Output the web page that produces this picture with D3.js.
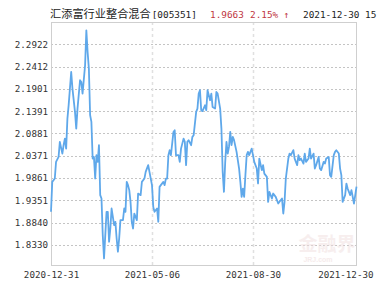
<!DOCTYPE html>
<html><head><meta charset="utf-8">
<script src="https://cdn.jsdelivr.net/npm/d3@7"></script>
<style>
html,body{margin:0;padding:0;background:#fff;overflow:hidden;}
svg{display:block;}
</style></head>
<body>
<svg id="chart" width="377" height="300"></svg>
<script>
const fundName = "汇添富行业整合混合";
const fundCode = "[005351]";
const latestValue = "1.9663";
const latestChange = "2.15% ↑";
const latestTime = "2021-12-30 15";

const yTickValues = [1.8330, 1.8840, 1.9351, 1.9861, 2.0371, 2.0881, 2.1391, 2.1901, 2.2412, 2.2922];
const yTickLabels = ["1.8330", "1.8840", "1.9351", "1.9861", "2.0371", "2.0881", "2.1391", "2.1901", "2.2412", "2.2922"];
const xTickDays = [0, 80, 160, 242];
const xTickLabels = ["2020-12-31", "2021-05-06", "2021-08-30", "2021-12-30"];

const days = [0,1,3,4,6,7,9,10,11,12,13,14,16,17,19,20,21,23,24,25,27,28,29,30,31,32,33,34,35,36,37,38,39,40,41,42,43,44,45,46,47,48,50,51,52,53,54,55,57,58,59,60,61,62,63,64,65,66,68,69,71,72,74,75,77,78,80,81,82,84,85,86,87,89,90,91,92,93,94,95,97,98,99,101,102,103,105,106,107,108,109,111,112,113,115,116,117,118,119,120,122,123,124,126,127,128,130,131,132,134,135,136,137,138,139,140,141,142,143,144,145,147,149,150,151,152,153,154,155,156,157,159,160,161,163,164,165,167,168,169,171,172,173,175,176,178,180,181,183,184,185,186,187,188,189,190,192,193,195,196,197,198,200,201,202,204,205,206,208,209,210,212,213,214,216,217,218,220,221,222,224,225,226,228,229,230,231,233,234,235,237,238,240,242];
const navValues = [1.9085,1.9771,1.9847,2.0229,2.0343,2.0687,2.0419,2.0618,2.0762,2.0533,2.1220,2.1533,2.2288,2.1906,2.1373,2.0991,2.1449,2.2098,2.2059,2.1792,2.2442,2.3242,2.2746,2.2364,2.1298,2.1144,2.0305,2.0343,1.9847,2.0382,2.0229,2.0611,1.9467,1.9389,1.8552,1.8017,1.8552,1.9085,1.9085,1.8399,1.8703,1.9161,1.8781,1.8856,1.8474,1.8170,1.8474,1.8895,1.8895,1.9161,1.9085,1.9771,1.9696,1.9582,1.9314,1.8856,1.8703,1.9046,1.8895,1.9504,1.9467,1.9771,1.9847,2.0000,2.0154,2.0000,1.9696,1.9199,1.9085,1.9161,1.8856,1.9657,1.9696,1.9771,1.9696,1.9847,1.9847,2.0382,2.0497,2.0382,2.0915,2.0954,2.0382,2.0382,2.0229,2.0533,2.0762,2.0687,2.0154,2.0687,2.0726,2.0611,2.0801,2.0840,2.1373,2.1449,2.1792,2.1870,2.1412,2.1390,2.1526,2.1412,2.1870,2.1641,2.1792,2.1487,2.1449,2.1831,2.1792,2.1449,2.0991,2.0000,1.9543,2.0229,2.0687,2.0419,2.0572,2.0915,2.0611,2.0801,2.0726,2.0458,2.0076,1.9771,1.9428,1.9618,1.9428,1.9925,2.0382,2.0458,2.0382,2.0533,2.0382,2.0229,2.0076,1.9733,2.0305,2.0039,2.0154,1.9961,1.9886,1.9314,1.9543,1.9389,1.9504,1.9428,1.9275,1.9314,1.9389,1.9046,1.9314,1.9847,2.0076,2.0305,2.0419,2.0382,2.0497,2.0305,2.0154,2.0382,2.0268,2.0305,2.0190,2.0419,2.0229,2.0305,2.0533,2.0305,2.0419,2.0076,2.0154,2.0343,2.0076,2.0039,2.0229,2.0190,2.0305,2.0343,1.9925,1.9886,2.0382,2.0458,2.0497,2.0419,2.0076,1.9925,1.9314,1.9467,1.9733,1.9618,1.9467,1.9582,1.9275,1.9663];

const svg = d3.select("#chart");
const L = 51, R = 356.5, T = 22, B = 265.5;
const x = d3.scaleLinear().domain([0, 242]).range([L, R]);
const y = d3.scaleLinear().domain([1.7856, 2.3432]).range([B, T]);

const mono = "'DejaVu Sans Mono', 'Liberation Mono', monospace";
const cjk = "'Noto Sans CJK SC', sans-serif";

// horizontal dotted gridlines
svg.append("g").selectAll("line").data(yTickValues).join("line")
  .attr("x1", L).attr("x2", R)
  .attr("y1", d => Math.round(y(d)) + 0.5).attr("y2", d => Math.round(y(d)) + 0.5)
  .attr("stroke", "#c4c4c4").attr("stroke-width", 1).attr("stroke-dasharray", "2,2");

// vertical dashed gridlines at inner date ticks
svg.append("g").selectAll("line").data(xTickDays.slice(1, -1)).join("line")
  .attr("x1", d => Math.round(x(d)) + 0.5).attr("x2", d => Math.round(x(d)) + 0.5)
  .attr("y1", T).attr("y2", B)
  .attr("stroke", "#e0e0e0").attr("stroke-width", 1.5).attr("stroke-dasharray", "3,3");

// watermark
const wm = svg.append("g").attr("opacity", 0.5);
wm.append("text").attr("x", 327).attr("y", 251).attr("text-anchor", "middle")
  .attr("font-family", cjk).attr("font-size", 19).attr("font-weight", "bold")
  .attr("fill", "#f0dede").text("金融界");
wm.append("text").attr("x", 318).attr("y", 262).attr("text-anchor", "middle")
  .attr("font-family", "'Liberation Sans', sans-serif").attr("font-size", 7).attr("font-weight", "bold")
  .attr("fill", "#eed8d8").text("JRJ.com");

// plot border
svg.append("rect").attr("x", L + 0.5).attr("y", T + 0.5)
  .attr("width", R - L - 0.5).attr("height", B - T - 0.5)
  .attr("fill", "none").attr("stroke", "#cfcfcf").attr("stroke-width", 1);

// line
const line = d3.line().x((d, i) => x(days[i])).y(d => y(d));
svg.append("path").datum(navValues)
  .attr("d", line)
  .attr("fill", "none").attr("stroke", "#5fa8ea").attr("stroke-width", 1.8)
  .attr("stroke-linejoin", "round");

// y axis
const yAxis = d3.axisLeft(y).tickValues(yTickValues)
  .tickFormat((d, i) => yTickLabels[i]).tickSize(0).tickPadding(3);
const gy = svg.append("g").attr("transform", `translate(${L},0)`).call(yAxis);
gy.select(".domain").remove();
gy.selectAll("text").attr("font-family", mono).attr("font-size", 9.2).attr("fill", "#333");

// x axis
const xAxis = d3.axisBottom(x).tickValues(xTickDays)
  .tickFormat((d, i) => xTickLabels[i]).tickSize(0).tickPadding(6);
const gx = svg.append("g").attr("transform", `translate(0,${B})`).call(xAxis);
gx.select(".domain").remove();
gx.selectAll("text").attr("font-family", mono).attr("font-size", 9.2).attr("fill", "#333");
// last label is pushed left so it stays inside the picture
gx.selectAll("text").filter((d, i) => i === xTickLabels.length - 1)
  .attr("text-anchor", "end").attr("x", 373 - R);

// header
const title = svg.append("text").attr("x", 50).attr("y", 18);
title.append("tspan").attr("font-family", cjk).attr("font-size", 11.2).attr("fill", "#222").text(fundName);
title.append("tspan").attr("font-family", mono).attr("font-size", 9.4).attr("fill", "#222").attr("dx", 1).text(fundCode);

svg.append("text").attr("x", 210).attr("y", 18)
  .attr("font-family", mono).attr("font-size", 9.4).attr("fill", "#c0373f").text(latestValue);
svg.append("text").attr("x", 250).attr("y", 18)
  .attr("font-family", mono).attr("font-size", 9.4).attr("fill", "#c0373f").text(latestChange);
svg.append("text").attr("x", 303).attr("y", 18)
  .attr("font-family", mono).attr("font-size", 9.4).attr("fill", "#222").text(latestTime);
</script>
</body></html>
